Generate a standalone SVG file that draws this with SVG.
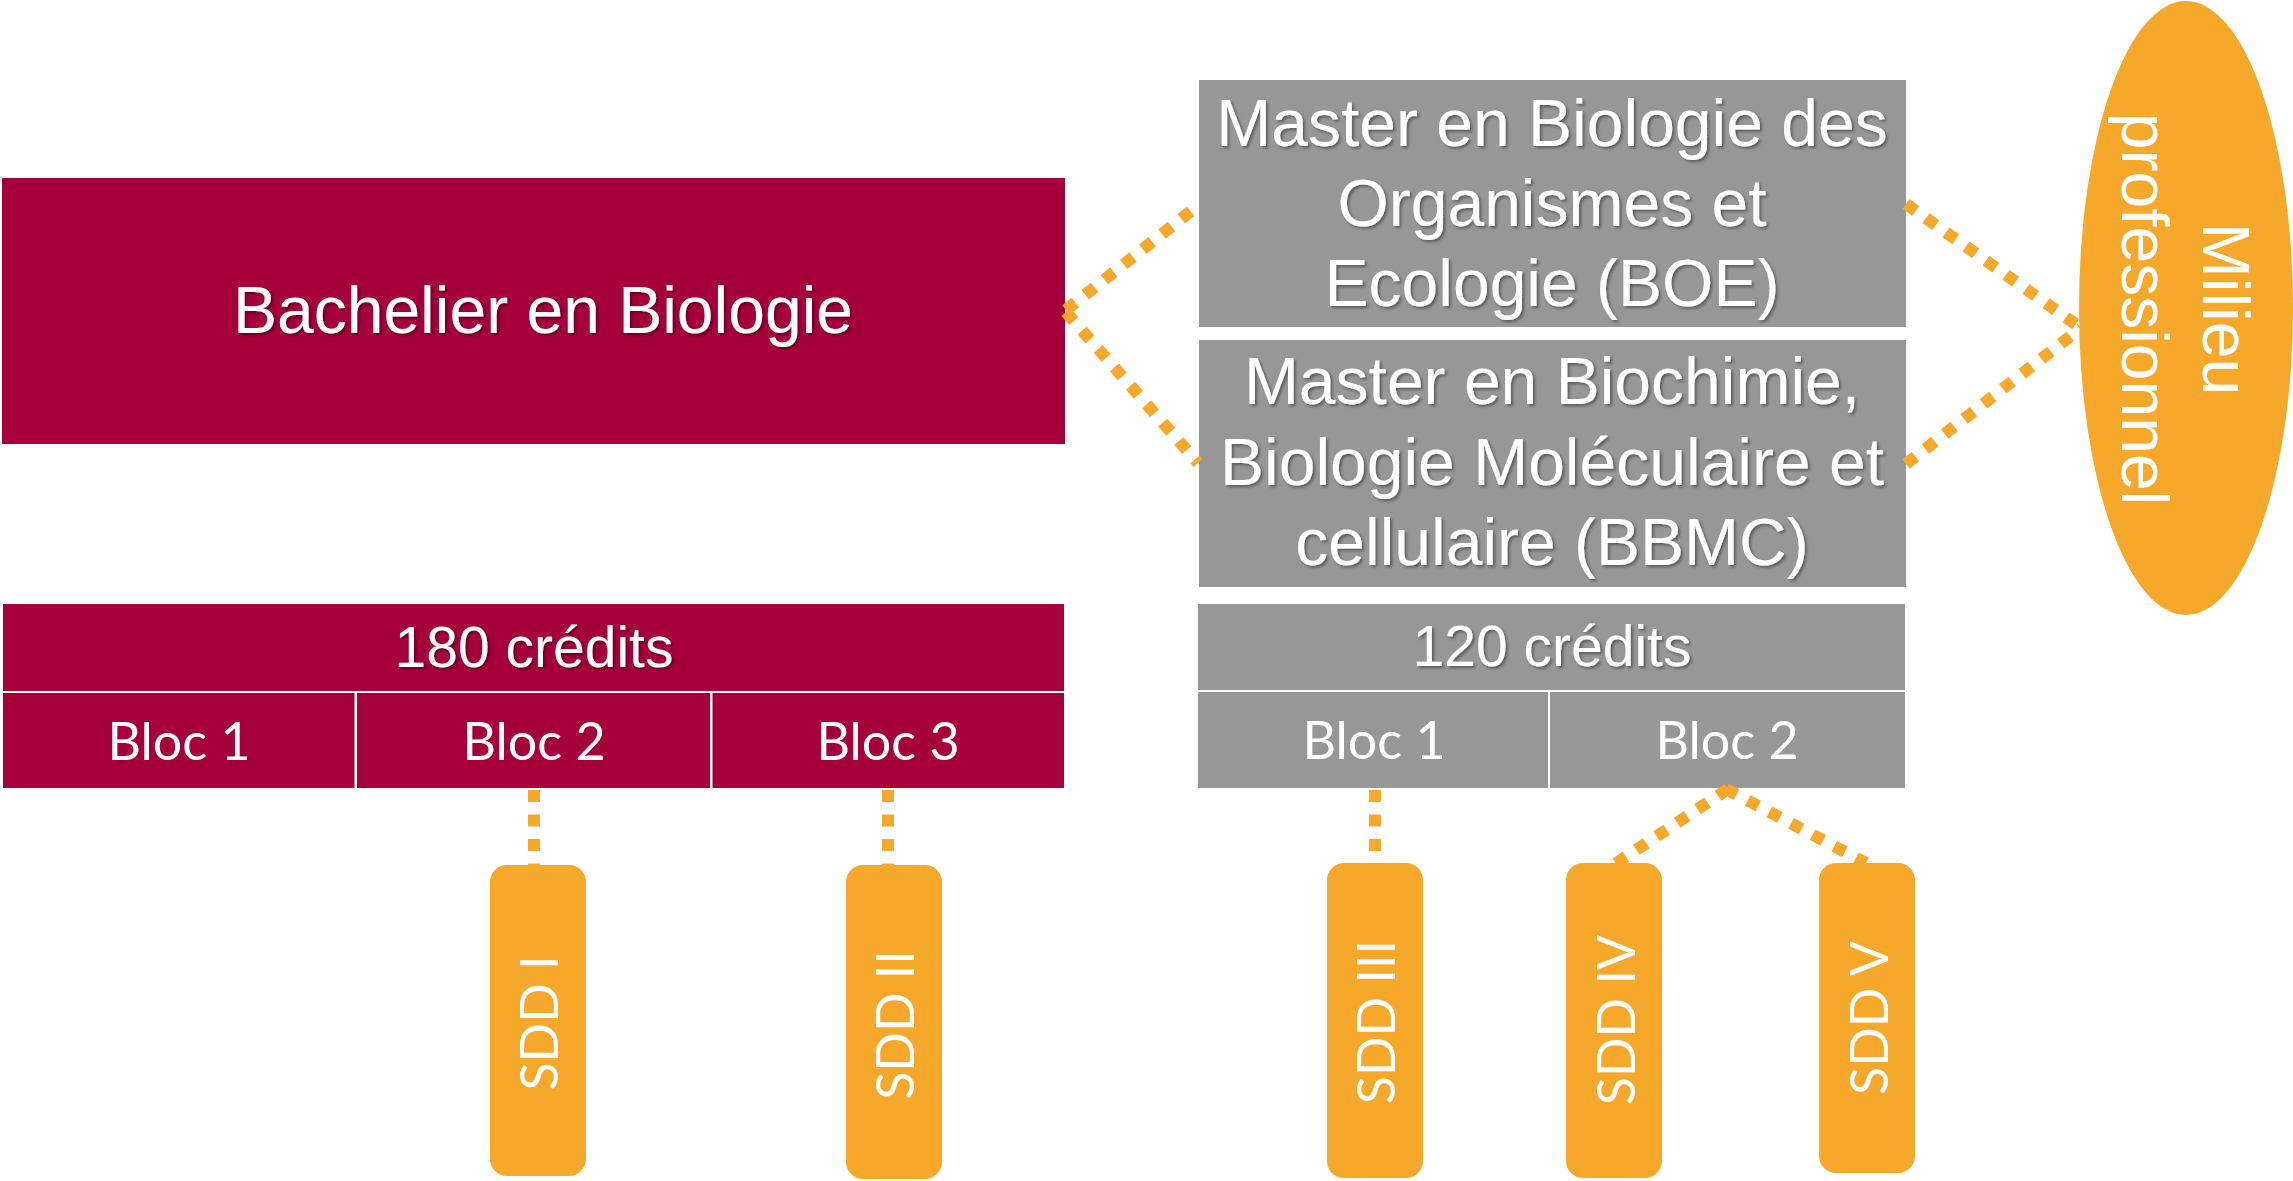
<svg xmlns="http://www.w3.org/2000/svg" width="2293" height="1181" viewBox="0 0 2293 1181">
  <defs>
    <filter id="shadow" x="-5%" y="-20%" width="110%" height="140%">
      <feDropShadow dx="2" dy="2" stdDeviation="1.5" flood-color="#000" flood-opacity="0.4"/>
    </filter>
  </defs>
  <style>
    .maroon { fill: #A6003A; }
    .grey { fill: #979797; }
    .orange { fill: #F5A829; }
    .title { font-family: "Liberation Sans", Arial, sans-serif; fill: #fff; text-anchor: middle; filter: url(#shadow); }
    .big { font-size: 66px; }
    .credits { font-size: 57px; }
    .bloc { font-family: Lato, "Open Sans", sans-serif; font-size: 52px; fill: #fff; text-anchor: middle; }
    .env { font-family: "Liberation Sans", Arial, sans-serif; font-size: 66px; fill: #fff; text-anchor: middle; }
    .link { fill: none; stroke: #F5A829; stroke-width: 12; stroke-dasharray: 12 12.5; }
  </style>

  <!-- Bachelor programme -->
  <g id="bachelier">
    <rect class="maroon" x="2" y="178" width="1063" height="266"/>
    <text class="title big" x="543" y="333">Bachelier en Biologie</text>
  </g>
  <g id="bachelier-credits">
    <rect class="maroon" x="3" y="604" width="1061" height="87"/>
    <text class="title credits" x="534" y="667">180 crédits</text>
  </g>
  <g id="bachelier-bloc1">
    <rect class="maroon" x="3" y="693" width="351.5" height="95"/>
    <text class="bloc" x="179" y="760">Bloc 1</text>
  </g>
  <g id="bachelier-bloc2">
    <rect class="maroon" x="357" y="693" width="353" height="95"/>
    <text class="bloc" x="534" y="760">Bloc 2</text>
  </g>
  <g id="bachelier-bloc3">
    <rect class="maroon" x="712.5" y="693" width="351.5" height="95"/>
    <text class="bloc" x="888" y="760">Bloc 3</text>
  </g>

  <!-- Master programmes -->
  <g id="master-boe">
    <rect class="grey" x="1199" y="80" width="707" height="247"/>
    <text class="title big" x="1552" y="146">Master en Biologie des</text>
    <text class="title big" x="1552" y="225.5">Organismes et</text>
    <text class="title big" x="1552" y="305.5">Ecologie (BOE)</text>
  </g>
  <g id="master-bbmc">
    <rect class="grey" x="1199" y="340" width="707" height="247"/>
    <text class="title big" x="1552" y="404">Master en Biochimie,</text>
    <text class="title big" x="1552" y="485">Biologie Moléculaire et</text>
    <text class="title big" x="1552" y="565">cellulaire (BBMC)</text>
  </g>
  <g id="master-credits">
    <rect class="grey" x="1198" y="604" width="707" height="86"/>
    <text class="title credits" x="1552" y="666">120 crédits</text>
  </g>
  <g id="master-bloc1">
    <rect class="grey" x="1198" y="692" width="350" height="96"/>
    <text class="bloc" x="1374" y="759">Bloc 1</text>
  </g>
  <g id="master-bloc2">
    <rect class="grey" x="1550" y="692" width="355" height="96"/>
    <text class="bloc" x="1727" y="759">Bloc 2</text>
  </g>

  <!-- Professional world -->
  <g id="milieu-professionnel">
    <ellipse class="orange" cx="2186" cy="308" rx="107" ry="307"/>
    <g transform="translate(2203,309) rotate(90)">
      <text class="env" x="0" y="0">Milieu</text>
      <text class="env" x="0" y="81">professionnel</text>
    </g>
  </g>

  <!-- Data science courses -->
  <g id="sdd-1">
    <rect class="orange" x="490" y="865" width="96" height="311" rx="17"/>
    <text class="bloc" transform="translate(558,1023) rotate(-90)">SDD I</text>
  </g>
  <g id="sdd-2">
    <rect class="orange" x="846" y="865" width="96" height="314" rx="17"/>
    <text class="bloc" transform="translate(913.5,1025) rotate(-90)">SDD II</text>
  </g>
  <g id="sdd-3">
    <rect class="orange" x="1327" y="863" width="96" height="315" rx="17"/>
    <text class="bloc" transform="translate(1395,1022) rotate(-90)">SDD III</text>
  </g>
  <g id="sdd-4">
    <rect class="orange" x="1566" y="863" width="96" height="315" rx="17"/>
    <text class="bloc" transform="translate(1635,1020) rotate(-90)">SDD IV</text>
  </g>
  <g id="sdd-5">
    <rect class="orange" x="1819" y="863" width="96" height="310" rx="17"/>
    <text class="bloc" transform="translate(1888,1018) rotate(-90)">SDD V</text>
  </g>

  <!-- Dotted links -->
  <g id="connectors">
    <line class="link" x1="1066" y1="310" x2="1198" y2="205.5"/>
    <line class="link" x1="1066" y1="312" x2="1198" y2="463"/>
    <line class="link" x1="1906" y1="204" x2="2081" y2="328"/>
    <line class="link" x1="1906" y1="464" x2="2081" y2="328"/>
    <line class="link" x1="534" y1="790" x2="534" y2="865"/>
    <line class="link" x1="888" y1="790" x2="888" y2="865"/>
    <line class="link" x1="1375" y1="790" x2="1375" y2="863"/>
    <line class="link" x1="1728" y1="789" x2="1615" y2="864"/>
    <line class="link" x1="1726" y1="789" x2="1866" y2="863"/>
  </g>
</svg>
